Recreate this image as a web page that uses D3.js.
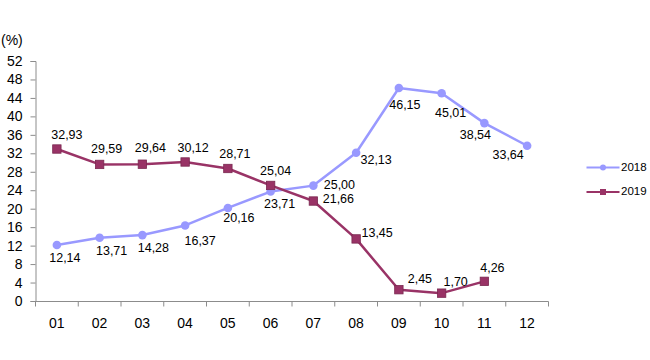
<!DOCTYPE html>
<html>
<head>
<meta charset="utf-8">
<script src="https://cdn.jsdelivr.net/npm/d3@7/dist/d3.min.js"></script>
<style>
  html, body { margin: 0; padding: 0; background: #fff; }
  svg { display: block; font-family: "Liberation Sans", Arial, sans-serif; }
</style>
</head>
<body>
<svg id="chart" width="650" height="360"></svg>
<script>
// ---- data ----
const months = ["01","02","03","04","05","06","07","08","09","10","11","12"];
const series2018 = [12.14, 13.71, 14.28, 16.37, 20.16, 23.71, 25.00, 32.13, 46.15, 45.01, 38.54, 33.64];
const series2019 = [32.93, 29.59, 29.64, 30.12, 28.71, 25.04, 21.66, 13.45, 2.45, 1.70, 4.26];
const yTickValues = [0, 4, 8, 12, 16, 20, 24, 28, 32, 36, 40, 44, 48, 52];
const seriesNames = ["2018", "2019"];

// ---- layout (label offsets relative to each point, in px) ----
const labelOffsets2018 = [[8,14],[12,14],[11,14],[15,16],[11,11],[9,13],[26,0],[20,8],[6,18],[9,20],[-9,13],[-19,10]];
const labelOffsets2019 = [[10,-13],[7,-15],[8,-15],[8,-13],[7,-14],[5,-14],[25,-1],[21,-5],[21,-10],[14,-10],[8,-13]];

const colors = { "2018": "#9999FF", "2019": "#993366" };

const svg = d3.select("#chart");

const x = d3.scaleBand().domain(months).range([35.5, 548.5]).padding(0);
const y = d3.scaleLinear().domain([0, 52]).range([301, 61]);

const fmt = v => d3.format(".2f")(v).replace(".", ",");

// Y axis
const yAxis = svg.append("g")
  .attr("transform", "translate(35.5,0)")
  .call(d3.axisLeft(y).tickValues(yTickValues).tickSize(5).tickPadding(8).tickFormat(d3.format("d")));
yAxis.select(".domain").attr("stroke", "#8c8c8c").attr("stroke-width", 1);
yAxis.selectAll(".tick line").attr("stroke", "#8c8c8c");
yAxis.selectAll(".tick text").attr("fill", "#000").style("font-size", "14px")
  .style("font-family", "'Liberation Sans', Arial, sans-serif");

// X axis (ticks at category boundaries)
const xAxisG = svg.append("g").attr("transform", "translate(0,301.5)");
xAxisG.append("line")
  .attr("x1", x.range()[0]).attr("x2", x.range()[1])
  .attr("stroke", "#8c8c8c");
const boundaries = months.map(m => x(m)).concat([x.range()[1]]);
xAxisG.selectAll("line.tk").data(boundaries).enter().append("line")
  .attr("class", "tk")
  .attr("x1", d => d).attr("x2", d => d)
  .attr("y1", 0).attr("y2", 5)
  .attr("stroke", "#8c8c8c");
xAxisG.selectAll("text").data(months).enter().append("text")
  .attr("x", d => x(d) + x.bandwidth() / 2)
  .attr("y", 23)
  .attr("text-anchor", "middle")
  .attr("dominant-baseline", "middle")
  .style("font-size", "14px")
  .attr("fill", "#000")
  .text(d => d);

// unit label
svg.append("text")
  .attr("x", 1).attr("y", 44.5)
  .style("font-size", "14px")
  .attr("fill", "#000")
  .text("(%)");

const cx = i => x(months[i]) + x.bandwidth() / 2;

function drawSeries(values, color, marker, offsets) {
  const line = d3.line().x((d, i) => cx(i)).y(d => y(d));
  svg.append("path")
    .datum(values)
    .attr("fill", "none")
    .attr("stroke", color)
    .attr("stroke-width", 2.5)
    .attr("stroke-linejoin", "round")
    .attr("d", line);
  const g = svg.append("g");
  if (marker === "circle") {
    g.selectAll("circle").data(values).enter().append("circle")
      .attr("cx", (d, i) => cx(i)).attr("cy", d => y(d))
      .attr("r", 4.3)
      .attr("fill", color);
  } else {
    g.selectAll("rect").data(values).enter().append("rect")
      .attr("x", (d, i) => cx(i) - 4.2).attr("y", d => y(d) - 4.2)
      .attr("width", 8.4).attr("height", 8.4)
      .attr("fill", color)
      .attr("stroke", "#7a2850").attr("stroke-width", 0.8);
  }
  svg.append("g").selectAll("text").data(values).enter().append("text")
    .attr("x", (d, i) => cx(i) + offsets[i][0])
    .attr("y", (d, i) => y(d) + offsets[i][1])
    .attr("text-anchor", "middle")
    .attr("dominant-baseline", "middle")
    .style("font-size", "12.5px")
    .attr("fill", "#000")
    .text(d => fmt(d));
}

drawSeries(series2018, colors["2018"], "circle", labelOffsets2018);
drawSeries(series2019, colors["2019"], "rect", labelOffsets2019);

// Legend
const legendY = [167.5, 192];
seriesNames.forEach((name, k) => {
  const g = svg.append("g").attr("transform", `translate(0,${legendY[k]})`);
  g.append("line").attr("x1", 586.5).attr("x2", 619.5).attr("y1", 0).attr("y2", 0)
    .attr("stroke", colors[name]).attr("stroke-width", 2);
  if (k === 0) {
    g.append("circle").attr("cx", 603).attr("cy", 0).attr("r", 3).attr("fill", colors[name]);
  } else {
    g.append("rect").attr("x", 600).attr("y", -3).attr("width", 6).attr("height", 6).attr("fill", colors[name]);
  }
  g.append("text").attr("x", 621).attr("y", 0)
    .attr("dominant-baseline", "middle")
    .style("font-size", "11.5px")
    .attr("fill", "#000")
    .text(name);
});
</script>
</body>
</html>
